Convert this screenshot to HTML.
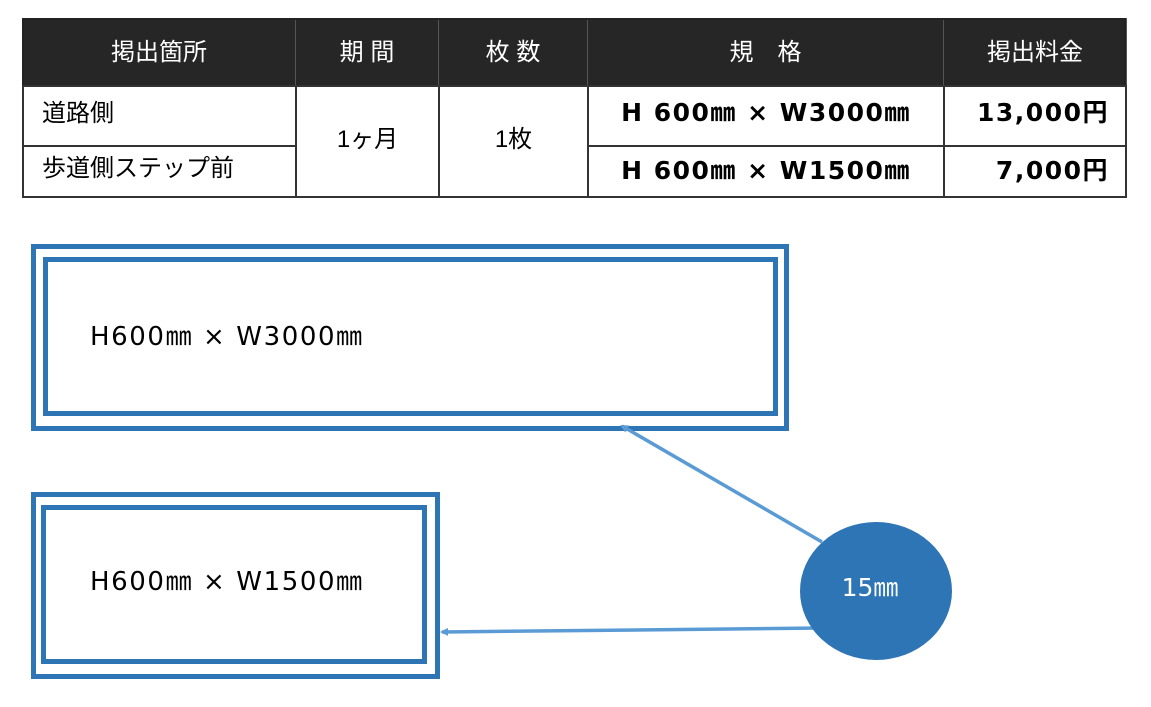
<!DOCTYPE html>
<html><head><meta charset="utf-8"><style>
body{margin:0;width:1151px;height:707px;background:#fff;position:relative;overflow:hidden;font-family:"Liberation Sans","Noto Sans CJK JP",sans-serif}
.c{position:absolute;box-sizing:border-box;display:flex;align-items:center;justify-content:center;font-size:24px;color:#000}
.h{background:#262626;color:#fff;border:1px solid #555}
.b{border:2px solid #333}
.d{font-family:"DejaVu Sans","Noto Sans CJK JP",sans-serif;font-size:25px;letter-spacing:1.5px}
.box{position:absolute;box-sizing:border-box;border:5px solid #2e75b6}
.t{position:absolute;font-size:26px;letter-spacing:1.6px;color:#000;font-family:"DejaVu Sans","Noto Sans CJK JP",sans-serif}
</style></head><body>
<div class="c h" style="left:22px;top:18px;width:274px;height:69px;padding-bottom:6px">掲出箇所</div>
<div class="c h" style="left:295px;top:18px;width:144px;height:69px;padding-bottom:6px">期 間</div>
<div class="c h" style="left:438px;top:18px;width:150px;height:69px;padding-bottom:6px">枚 数</div>
<div class="c h" style="left:587px;top:18px;width:357px;height:69px;padding-bottom:6px">規　格</div>
<div class="c h" style="left:943px;top:18px;width:184px;height:69px;padding-bottom:6px">掲出料金</div>
<div style="position:absolute;left:22px;top:18px;width:1104px;height:69px;border:2px solid #222;box-sizing:border-box"></div>
<div class="c b" style="left:22px;top:85px;width:275px;height:62px;justify-content:flex-start;padding-left:18px;padding-bottom:12px">道路側</div>
<div class="c b" style="left:22px;top:145px;width:275px;height:53px;justify-content:flex-start;padding-left:18px;padding-bottom:12px">歩道側ステップ前</div>
<div class="c b" style="left:295px;top:85px;width:145px;height:113px;padding-bottom:10px">1ヶ月</div>
<div class="c b" style="left:438px;top:85px;width:151px;height:113px;padding-bottom:10px">1枚</div>
<div class="c b d" style="left:587px;top:85px;width:358px;height:62px;font-weight:bold;padding-bottom:10px">H 600㎜ × W3000㎜</div>
<div class="c b d" style="left:587px;top:145px;width:358px;height:53px;font-weight:bold;padding-bottom:6px">H 600㎜ × W1500㎜</div>
<div class="c b d" style="left:943px;top:85px;width:184px;height:62px;font-weight:bold;justify-content:flex-end;padding-right:16px;padding-bottom:10px">13,000円</div>
<div class="c b d" style="left:943px;top:145px;width:184px;height:53px;font-weight:bold;justify-content:flex-end;padding-right:16px;padding-bottom:6px">7,000円</div>

<div class="box" style="left:31px;top:244px;width:758px;height:187px"></div>
<div class="box" style="left:43px;top:257px;width:735px;height:159px"></div>
<div class="t" style="left:90px;top:316px">H600㎜ × W3000㎜</div>
<div class="box" style="left:31px;top:492px;width:409px;height:187px"></div>
<div class="box" style="left:41px;top:505px;width:386px;height:159px"></div>
<div class="t" style="left:90px;top:561px">H600㎜ × W1500㎜</div>

<svg style="position:absolute;left:0;top:0" width="1151" height="707">
<defs><marker id="a" markerWidth="8" markerHeight="8" refX="6" refY="4" orient="auto" markerUnits="userSpaceOnUse"><path d="M0,0 L8,4 L0,8z" fill="#5b9bd5"/></marker></defs>
<line x1="822" y1="542" x2="622" y2="426" stroke="#5b9bd5" stroke-width="3.5" marker-end="url(#a)"/>
<line x1="822" y1="628" x2="442" y2="632" stroke="#5b9bd5" stroke-width="3.5" marker-end="url(#a)"/>
<ellipse cx="876" cy="591" rx="76" ry="69" fill="#2e75b6"/>
<text x="870" y="596" fill="#fff" font-size="25" text-anchor="middle" font-family="DejaVu Sans,Noto Sans CJK JP,sans-serif">15㎜</text>
</svg>
</body></html>
